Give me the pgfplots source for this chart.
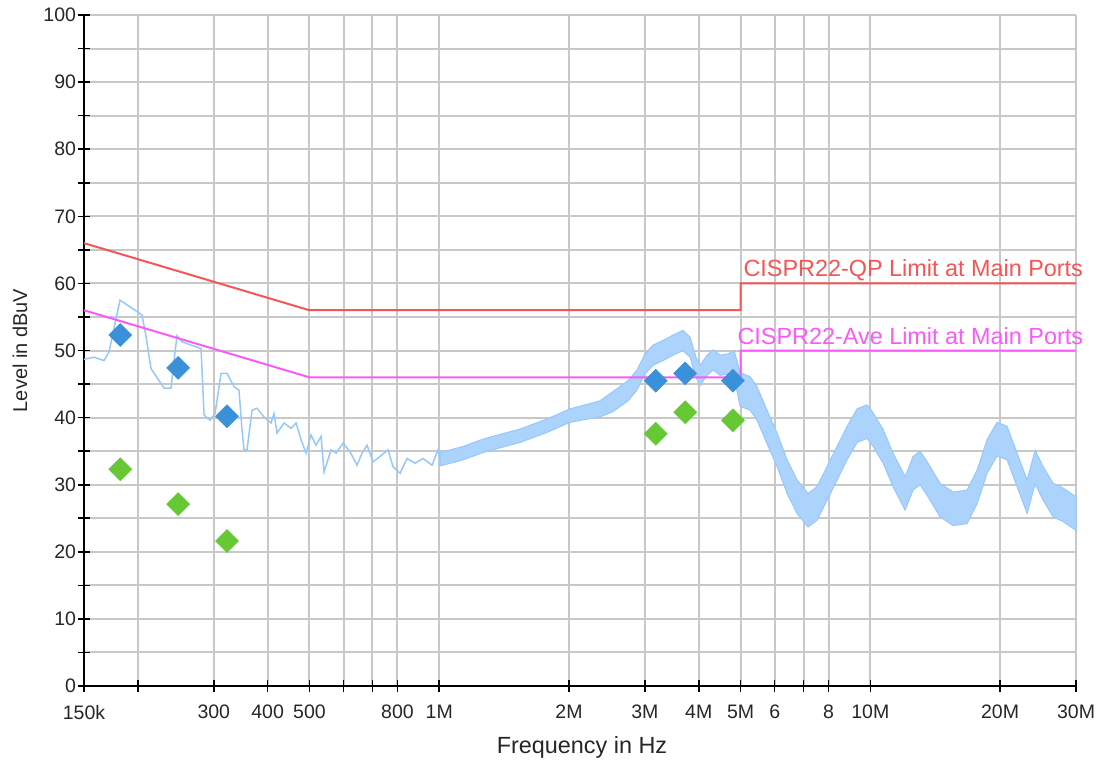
\documentclass[border=0pt]{standalone}
\usepackage{fontspec}
\setmainfont{Liberation Sans}
\usepackage{pgfplots}
\pgfplotsset{compat=1.18}
\definecolor{gridgray}{RGB}{200,200,200}
\definecolor{trace}{RGB}{150,200,252}
\definecolor{band}{RGB}{172,211,252}
\definecolor{qpred}{RGB}{245,85,85}
\definecolor{avemag}{RGB}{250,90,250}
\definecolor{qpblue}{RGB}{58,145,218}
\definecolor{avegreen}{RGB}{102,200,52}

\begin{document}
\begin{tikzpicture}
\begin{axis}[
  scale only axis, width=496pt, height=335.5pt,
  xmode=log, xmin=150000, xmax=30000000, ymin=0, ymax=100,
  axis x line*=bottom, axis y line*=left,
  axis line style={black, line width=1pt},
  xtick={150000,200000,300000,400000,500000,600000,700000,800000,1000000,2000000,3000000,4000000,5000000,6000000,7000000,8000000,10000000,20000000,30000000},
  xticklabels={150k,,300,400,500,,,800,1M,2M,3M,4M,5M,6,,8,10M,20M,30M},
  minor xtick={},
  ytick={0,10,...,100}, minor ytick={5,15,...,95},
  grid=both,
  major grid style={gridgray, line width=1pt},
  minor grid style={gridgray, line width=1pt},
  tick align=center, major tick length=6pt, minor tick length=6pt,
  every tick/.style={black, line width=0.8pt},
  /pgf/number format/assume math mode=true,
  ticklabel style={font=\fontsize{9.75}{11}\selectfont, text=black!85},
  xticklabel style={yshift=-3pt},
  yticklabel style={xshift=2.5pt},
  xlabel={Frequency in Hz}, ylabel={Level in dBuV},
  xlabel style={at={(axis description cs:0.502,-0.091)}, anchor=center, font=\fontsize{11.7}{14}\selectfont, text=black!85},
  ylabel style={at={(axis description cs:-0.0645,0.5)}, anchor=center, font=\fontsize{10}{12}\selectfont, text=black!85},
  clip=false,
]
\coordinate (bl) at (rel axis cs:0,0);
\coordinate (tr) at (rel axis cs:1,1);

% measured trace, low frequency part
\addplot[trace, line width=0.75pt] coordinates {
(150000,48.7) (158200,49.0) (166900,48.5) (171400,49.8) (181800,57.5) (199100,55.8)
(204400,55.3) (208900,52.1) (214500,47.3) (230000,44.4) (238700,44.4) (242600,48.6)
(246500,52.2) (253200,51.3) (265700,50.8) (280200,50.3) (284800,40.4) (294000,39.6)
(302000,40.6) (311800,46.6) (322000,46.6) (334200,44.6) (343200,44.1) (348800,38.2)
(352500,35.2) (358200,35.2) (368000,41.1) (377900,41.4) (392300,40.1) (407300,39.2)
(413800,40.6) (420500,37.7) (436500,39.2) (453200,38.4) (465500,39.2) (478100,36.7)
(491000,34.7) (504300,37.4) (518000,35.9) (532000,37.2) (540600,31.9) (561200,35.2)
(576400,34.7) (598300,36.2) (621000,34.9) (644600,32.9) (662100,34.7) (680000,35.9)
(702200,33.4) (728800,34.2) (760700,35.2) (781300,32.7) (811100,31.7) (842100,33.9)
(878900,33.2) (917300,33.9) (962200,32.9) (993800,35.2) (1004300,33.8)
};

% measured trace, noisy part (envelope)
\addplot[draw=trace, line width=0.5pt, fill=band] coordinates {
(1004300,34.8) (1136000,35.7) (1264000,36.8) (1384000,37.5) (1540000,38.3) (1779000,39.8)
(2011000,41.3) (2360000,42.5) (2531000,43.9) (2741000,45.5) (2876000,47.1) (3002000,49.5)
(3133000,50.8) (3305000,51.5) (3486000,52.3) (3677000,53.0) (3818000,52.0) (3942000,49.0)
(4027000,47.8) (4181000,49.3) (4316000,50.1) (4482000,49.3) (4677000,49.5) (4830000,50.0)
(4988000,46.7) (5261000,46.1) (5460000,44.6) (5760000,41.1) (6077000,37.7) (6410000,33.7)
(6762000,30.7) (7170000,28.7) (7523000,29.7) (7936000,32.7) (8372000,35.7) (8832000,38.7)
(9317000,41.3) (9829000,41.9) (10150000,40.7) (10710000,38.2) (11290000,34.7) (12040000,31.2)
(12560000,34.2) (13040000,35.0) (13610000,33.2) (14510000,30.2) (15560000,28.9) (16770000,29.2)
(17690000,32.2) (18650000,36.7) (19680000,39.3) (20760000,38.7) (21900000,34.7) (23100000,30.7)
(24110000,35.1) (25160000,32.7) (26540000,30.2) (27990000,29.5) (30000000,28.2)
(30000000,23.2) (27990000,24.5) (26540000,25.2) (25160000,27.7) (24110000,30.1) (23100000,25.7)
(21900000,29.7) (20760000,33.7) (19680000,34.3) (18650000,31.7) (17690000,27.2) (16770000,24.2)
(15560000,23.9) (14510000,25.2) (13610000,28.2) (13040000,30.0) (12560000,29.2) (12040000,26.2)
(11290000,29.7) (10710000,33.2) (10150000,35.7) (9829000,36.9) (9317000,36.3) (8832000,33.7)
(8372000,30.7) (7936000,27.7) (7523000,24.7) (7170000,23.7) (6762000,25.7) (6410000,28.7)
(6077000,32.7) (5760000,36.1) (5460000,39.6) (5261000,41.1) (4988000,41.7) (4830000,46.0)
(4677000,46.5) (4482000,46.3) (4316000,47.1) (4181000,46.3) (4027000,44.8) (3942000,46.0)
(3818000,49.0) (3677000,50.0) (3486000,49.3) (3305000,48.5) (3133000,47.8) (3002000,46.5)
(2876000,44.1) (2741000,42.5) (2531000,40.9) (2360000,40.1) (2011000,39.3) (1779000,37.8)
(1540000,36.3) (1384000,35.5) (1264000,34.8) (1136000,33.7) (1004300,32.8)
} -- cycle;

% limit lines
\addplot[qpred, line width=1pt] coordinates {
(150000,66) (500000,56) (5000000,56) (5000000,60) (30000000,60)};
\addplot[avemag, line width=1pt] coordinates {
(150000,56) (500000,46) (5000000,46) (5000000,50) (30000000,50)};

\node[anchor=base west, inner sep=0pt, text=qpred, font=\fontsize{11.7}{14}\selectfont]
  at (axis cs:5070000,61.1) {CISPR22-QP Limit at Main Ports};
\node[anchor=base west, inner sep=0pt, text=avemag, font=\fontsize{11.7}{14}\selectfont]
  at (axis cs:4910000,50.9) {CISPR22-Ave Limit at Main Ports};

% final QP and average readings
\addplot[only marks, mark=square*, mark size=4pt, mark options={rotate=45, draw=qpblue, fill=qpblue}]
  coordinates {(182000,52.3) (248000,47.4) (322000,40.2) (3180000,45.5) (3720000,46.6) (4800000,45.5)};
\addplot[only marks, mark=square*, mark size=4pt, mark options={rotate=45, draw=avegreen, fill=avegreen}]
  coordinates {(182000,32.3) (248000,27.1) (322000,21.6) (3180000,37.6) (3720000,40.8) (4800000,39.6)};
\end{axis}
\pgfresetboundingbox
\path[use as bounding box] ([shift={(-42pt,-38pt)}]bl) rectangle ([shift={(13pt,7.5pt)}]tr);
\end{tikzpicture}
\end{document}
